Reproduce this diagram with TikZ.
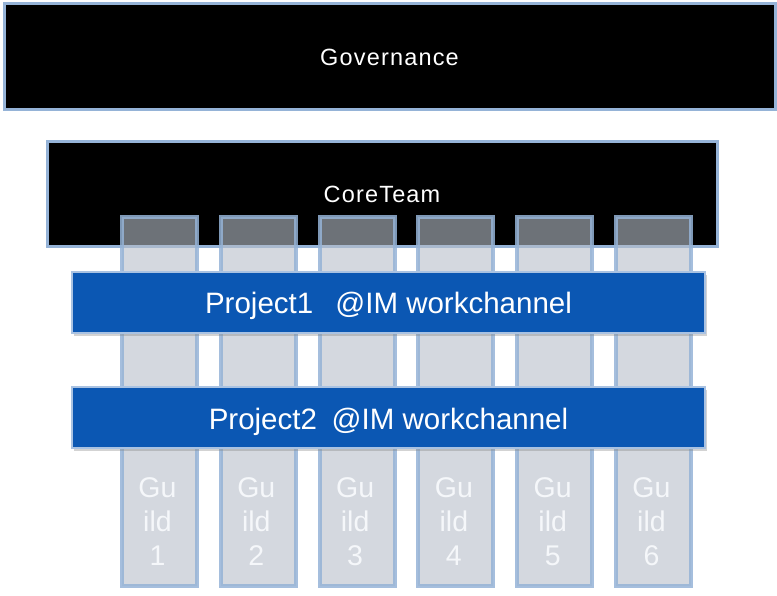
\documentclass[tikz,border=0pt]{standalone}
\usepackage{fontspec}
\setmainfont{Liberation Sans}
\usetikzlibrary{shadows}
\definecolor{rim}{HTML}{95B3D7}
\definecolor{guildfill}{RGB}{183,190,201}
\definecolor{barblue}{HTML}{0B57B3}
\definecolor{barrim}{HTML}{A9C2E2}
\definecolor{guildtext}{HTML}{F5F7FA}
\begin{document}
\begin{tikzpicture}[x=1pt,y=-1pt,
  blackbox/.style={draw=rim, line width=3pt, fill=black, text=white,
    inner sep=0pt, anchor=north west,
    font=\fontsize{23.5}{28}\selectfont\addfontfeature{LetterSpace=5}},
  guildcol/.style={draw=rim, draw opacity=0.85, line width=4pt,
    fill=guildfill, fill opacity=0.6, inner sep=0pt, anchor=north west,
    minimum width=75pt, minimum height=369pt},
  guildlabel/.style={text=guildtext, align=center,
    font=\fontsize{28.5}{34}\selectfont},
  projbar/.style={draw=barrim, line width=2pt, fill=barblue, text=white,
    inner sep=0pt, anchor=north west, minimum width=633pt, minimum height=61pt,
    text height=25pt, text depth=2pt,
    font=\fontsize{29.5}{34}\selectfont,
    drop shadow={shadow xshift=2pt, shadow yshift=-3pt, opacity=0.35}}
]
\useasboundingbox (0,0) rectangle (777,596);

% top-level boards
\node[blackbox, minimum width=771pt, minimum height=106pt] (gov) at (2.5,2.5) {Governance};
\node[blackbox, minimum width=670pt, minimum height=105pt] (core) at (45.5,140.5) {CoreTeam};

% guild columns
\foreach \i in {1,...,6} {
  \pgfmathsetmacro{\gx}{120+98.8*(\i-1)}
  \node[guildcol] (guild\i) at (\gx,215) {};
  \node[guildlabel] (guildtxt\i) at (\gx+37.5,522) {Gu\\ild\\\i};
}

% project bars across the guilds
\node[projbar] (proj1) at (71,271) {Project1\hspace{0.75em}@IM workchannel};
\node[projbar] (proj2) at (71,386) {Project2\hspace{0.5em}@IM workchannel};
\end{tikzpicture}
\end{document}
